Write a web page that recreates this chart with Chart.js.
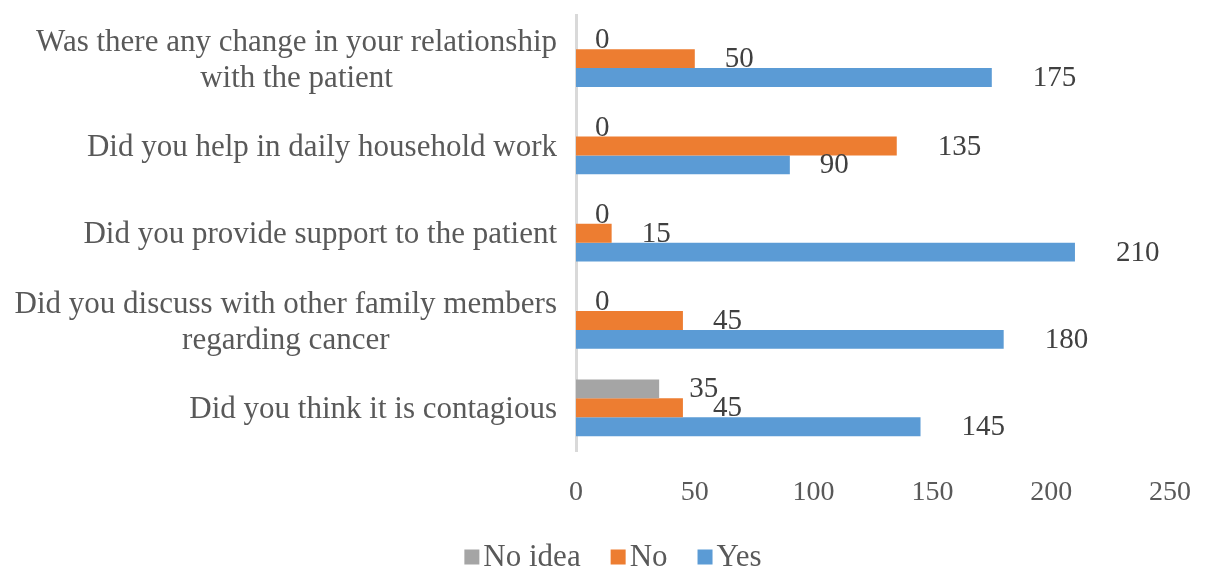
<!DOCTYPE html>
<html>
<head>
<meta charset="utf-8">
<title>Caregiver responses</title>
<script src="https://cdn.jsdelivr.net/npm/chart.js@4/dist/chart.umd.min.js"></script>
<style>
  html, body { margin: 0; padding: 0; background: #fff; }
  #wrap { width: 1206px; height: 571px; }
</style>
</head>
<body>
<div id="wrap"><canvas id="grafica" width="1206" height="571"></canvas></div>
<script>
// questions, one array of lines per category
const preguntas = [
    ["Was there any change in your relationship", "with the patient"],
    ["Did you help in daily household work"],
    ["Did you provide support to the patient"],
    ["Did you discuss with other family members", "regarding cancer"],
    ["Did you think it is contagious"]
];
const noIdea = [0, 0, 0, 0, 35];
const no = [50, 135, 15, 45, 45];
const yes = [175, 90, 210, 180, 145];
const xTicks = [0, 50, 100, 150, 200, 250];

const SERIF = "'Liberation Serif', 'Times New Roman', serif";
const GRIS_TEXTO = "#595959";

// question text to the left of the axis, right aligned, lines centred on each other
const etiquetasPreguntas = {
    id: "etiquetasPreguntas",
    afterDraw(chart) {
        const ctx = chart.ctx;
        const y = chart.scales.y;
        const derecha = chart.chartArea.left - 19;
        const alto = 36;
        ctx.save();
        ctx.font = "31px " + SERIF;
        ctx.fillStyle = GRIS_TEXTO;
        ctx.textAlign = "center";
        ctx.textBaseline = "middle";
        preguntas.forEach((lineas, i) => {
            const cy = y.getPixelForValue(i) + 2;
            const ancho = Math.max(...lineas.map(l => ctx.measureText(l).width));
            const cx = derecha - ancho / 2;
            const y0 = cy - (lineas.length - 1) * alto / 2;
            lineas.forEach((l, k) => ctx.fillText(l, cx, y0 + k * alto));
        });
        ctx.restore();
    }
};

// value next to every bar end, a little further out for longer numbers
const valores = {
    id: "valores",
    afterDatasetsDraw(chart) {
        const ctx = chart.ctx;
        ctx.save();
        ctx.font = "29px " + SERIF;
        ctx.fillStyle = "#404040";
        ctx.textAlign = "left";
        ctx.textBaseline = "middle";
        chart.data.datasets.forEach((ds, d) => {
            chart.getDatasetMeta(d).data.forEach((bar, i) => {
                const txt = String(ds.data[i]);
                ctx.fillText(txt, bar.x + 8 + 11 * txt.length, bar.y + 1);
            });
        });
        ctx.restore();
    }
};

// legend row under the axis: small square, then the series name
const leyenda = {
    id: "leyenda",
    afterDraw(chart) {
        const ctx = chart.ctx;
        const lado = 15, hueco = 4, entre = 30;
        const cy = 557;
        ctx.save();
        ctx.font = "31px " + SERIF;
        ctx.textBaseline = "middle";
        ctx.textAlign = "left";
        const items = chart.data.datasets.map(ds => ({
            color: ds.backgroundColor, texto: ds.label, ancho: ctx.measureText(ds.label).width
        }));
        const total = items.reduce((s, it) => s + lado + hueco + it.ancho, 0) + entre * (items.length - 1);
        let x = 613 - total / 2;
        items.forEach(it => {
            ctx.fillStyle = it.color;
            ctx.fillRect(x, cy - lado / 2, lado, lado);
            ctx.fillStyle = GRIS_TEXTO;
            ctx.fillText(it.texto, x + lado + hueco, cy + 1);
            x += lado + hueco + it.ancho + entre;
        });
        ctx.restore();
    }
};

new Chart(document.getElementById("grafica"), {
    type: "bar",
    data: {
        labels: preguntas.map(p => p.join(" ")),
        datasets: [
            { label: "No idea", data: noIdea, backgroundColor: "#A5A5A5" },
            { label: "No", data: no, backgroundColor: "#ED7D31" },
            { label: "Yes", data: yes, backgroundColor: "#5B9BD5" }
        ]
    },
    options: {
        indexAxis: "y",
        responsive: false,
        animation: false,
        barPercentage: 1,
        categoryPercentage: 0.65,
        layout: { padding: { left: 0, right: 36, top: 15, bottom: 38 } },
        plugins: {
            legend: { display: false },
            tooltip: { enabled: false }
        },
        scales: {
            x: {
                min: xTicks[0],
                max: xTicks[xTicks.length - 1],
                afterBuildTicks(scale) { scale.ticks = xTicks.map(v => ({ value: v })); },
                // the outer padding already leaves room for the "250" label
                afterFit(scale) { scale.paddingLeft = 0; scale.paddingRight = 0; },
                grid: { display: false, drawTicks: false },
                border: { display: false },
                ticks: { padding: 24, color: GRIS_TEXTO, font: { family: SERIF, size: 28 } }
            },
            y: {
                afterFit(scale) { scale.width = 576; },
                grid: { display: false, drawTicks: false },
                border: { color: "#D9D9D9", width: 3 },
                ticks: { display: false }
            }
        }
    },
    plugins: [etiquetasPreguntas, valores, leyenda]
});
</script>
</body>
</html>
